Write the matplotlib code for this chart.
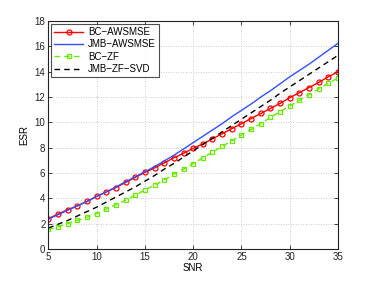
import matplotlib
matplotlib.use("Agg")
import matplotlib.pyplot as plt

snr = list(range(5, 36))
bc_awsmse = [2.4, 2.75, 3.1, 3.4, 3.75, 4.15, 4.5, 4.85, 5.25, 5.65, 6.05, 6.4, 6.8, 7.2, 7.55, 7.95,
             8.3, 8.7, 9.1, 9.5, 9.9, 10.3, 10.7, 11.1, 11.5, 11.95, 12.35, 12.75, 13.15, 13.6, 14.0]
jmb_awsmse = [2.35, 2.7, 3.05, 3.4, 3.75, 4.15, 4.5, 4.9, 5.3, 5.7, 6.1, 6.5, 6.95, 7.4, 7.9, 8.4,
              8.9, 9.4, 9.9, 10.45, 10.95, 11.45, 12.0, 12.5, 13.05, 13.6, 14.1, 14.6, 15.15, 15.7, 16.25]
bc_zf = [1.55, 1.75, 2.0, 2.25, 2.5, 2.8, 3.15, 3.5, 3.85, 4.25, 4.65, 5.05, 5.45, 5.9, 6.3, 6.75,
         7.2, 7.65, 8.1, 8.55, 9.0, 9.45, 9.9, 10.4, 10.85, 11.3, 11.75, 12.2, 12.65, 13.1, 13.5]
jmb_zf_svd = [1.65, 1.95, 2.25, 2.6, 2.95, 3.3, 3.7, 4.1, 4.5, 4.9, 5.35, 5.8, 6.3, 6.75, 7.25, 7.75,
              8.25, 8.75, 9.25, 9.75, 10.25, 10.75, 11.25, 11.75, 12.3, 12.8, 13.3, 13.8, 14.3, 14.8, 15.3]
xticks = [5, 10, 15, 20, 25, 30, 35]
yticks = [0, 2, 4, 6, 8, 10, 12, 14, 16, 18]

plt.rcParams['font.family'] = ['Liberation Sans', 'DejaVu Sans']
fig = plt.figure(figsize=(3.74, 2.81), dpi=100)
ax = fig.add_axes([0.129, 0.114, 0.775, 0.811])

ax.plot(snr, bc_awsmse, color='#ff0000', lw=1.0, marker='o', ms=3.6, mfc='none', mew=0.9, label='BC\u2212AWSMSE')
ax.plot(snr, jmb_awsmse, color='#3050ff', lw=1.0, label='JMB\u2212AWSMSE')
ax.plot(snr, bc_zf, color='#66ee00', lw=1.0, ls=(0, (4, 3)), marker='s', ms=3.2, mfc='none', mew=0.9, label='BC\u2212ZF')
ax.plot(snr, jmb_zf_svd, color='black', lw=1.0, ls=(0, (4, 3)), label='JMB\u2212ZF\u2212SVD')

ax.set_xlim(5, 35)
ax.set_ylim(0, 18)
ax.set_xticks(xticks)
ax.set_yticks(yticks)
ax.tick_params(direction='in', labelsize=7, length=3, width=0.6, top=True, right=True, pad=2, colors='#222222')
ax.grid(True, ls=(0, (1, 2)), color='#bbbbbb', lw=0.6)
for s in ax.spines.values():
    s.set_linewidth(0.8)
    s.set_color('#222222')
ax.set_xlabel('SNR', fontsize=7, labelpad=1)
ax.set_ylabel('ESR', fontsize=7, labelpad=4)

leg = ax.legend(loc='upper left', fontsize=7, frameon=True, fancybox=False, borderaxespad=0.3,
                handlelength=3.0, labelspacing=0.25, borderpad=0.3, handletextpad=0.5)
leg.get_frame().set_edgecolor('#222222')
leg.get_frame().set_linewidth(0.8)

fig.savefig('out.png', dpi=100)
